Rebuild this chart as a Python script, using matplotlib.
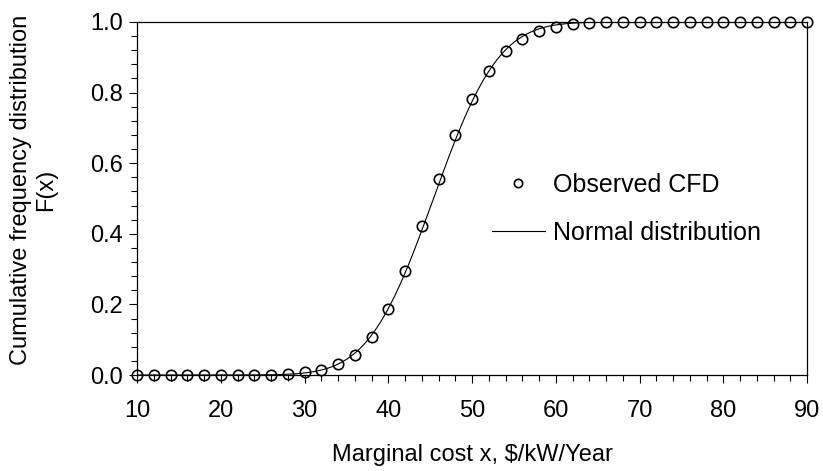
import math
import numpy as np
import matplotlib
matplotlib.use("Agg")
import matplotlib.pyplot as plt
from matplotlib.ticker import MultipleLocator

# ---- data ----
x_obs = [10, 12, 14, 16, 18, 20, 22, 24, 26, 28,
         30, 32, 34, 36, 38, 40, 42, 44, 46, 48,
         50, 52, 54, 56, 58, 60, 62, 64, 66, 68,
         70, 72, 74, 76, 78, 80, 82, 84, 86, 88, 90]
cfd_obs = [0.0, 0.0, 0.0, 0.0, 0.0, 0.0, 0.0, 0.0, 0.001, 0.003,
           0.008, 0.014, 0.030, 0.058, 0.109, 0.188, 0.296, 0.421, 0.556, 0.680,
           0.781, 0.861, 0.917, 0.952, 0.975, 0.986, 0.995, 0.998, 1.0, 1.0,
           1.0, 1.0, 1.0, 1.0, 1.0, 1.0, 1.0, 1.0, 1.0, 1.0, 1.0]
# fitted normal distribution parameters
mu = 45.4
sigma = 6.1

x_ticks = [10, 20, 30, 40, 50, 60, 70, 80, 90]
y_ticks = [0.0, 0.2, 0.4, 0.6, 0.8, 1.0]

plt.rcParams['font.family'] = ['Liberation Sans', 'DejaVu Sans']
FS = 17

fig = plt.figure(figsize=(8.23, 4.71), dpi=100)
ax = fig.add_axes([137/823, 1-375/471, (807-137)/823, (375-22)/471])

xs = np.linspace(10, 90, 801)
ys = [0.5 * (1 + math.erf((v - mu) / (sigma * math.sqrt(2)))) for v in xs]

ax.plot(xs, ys, color='black', lw=0.8, label='Normal distribution', zorder=2)
ax.plot(x_obs, cfd_obs, linestyle='none', marker='o', ms=7.5, mfc='none',
        mec='black', mew=1.2, label='Observed CFD', zorder=3, clip_on=False)

ax.set_xlim(10, 90)
ax.set_ylim(0, 1.0)
ax.set_xticks(x_ticks)
ax.set_xticklabels([str(t) for t in x_ticks])
ax.set_yticks(y_ticks)
ax.set_yticklabels([f"{t:.1f}" for t in y_ticks])
ax.xaxis.set_minor_locator(MultipleLocator(2))
ax.yaxis.set_minor_locator(MultipleLocator(0.04))
ax.tick_params(which='both', direction='out', top=False, right=False,
               labelsize=FS, width=0.8)
ax.tick_params(which='major', length=6)
ax.tick_params(which='minor', length=4)
ax.tick_params(axis='x', which='major', pad=12)
ax.tick_params(axis='y', which='major', pad=4)
for s in ax.spines.values():
    s.set_linewidth(0.9)

ax.set_xlabel('Marginal cost x, $/kW/Year', fontsize=FS, labelpad=16)
ax.set_ylabel('Cumulative frequency distribution\nF(x)', fontsize=FS,
              linespacing=1.2)
ax.yaxis.set_label_coords((57 - 137) / 670, (375 - 190) / 353)

h, l = ax.get_legend_handles_labels()
leg = ax.legend([h[1], h[0]], [l[1], l[0]], loc='upper left',
                bbox_to_anchor=(492/823, 1-173/471), bbox_transform=fig.transFigure,
                frameon=False, fontsize=18, borderpad=0, borderaxespad=0,
                handlelength=2.1, handletextpad=0.35, labelspacing=0.95,
                markerscale=0.8)

fig.savefig('out.png', dpi=100)
